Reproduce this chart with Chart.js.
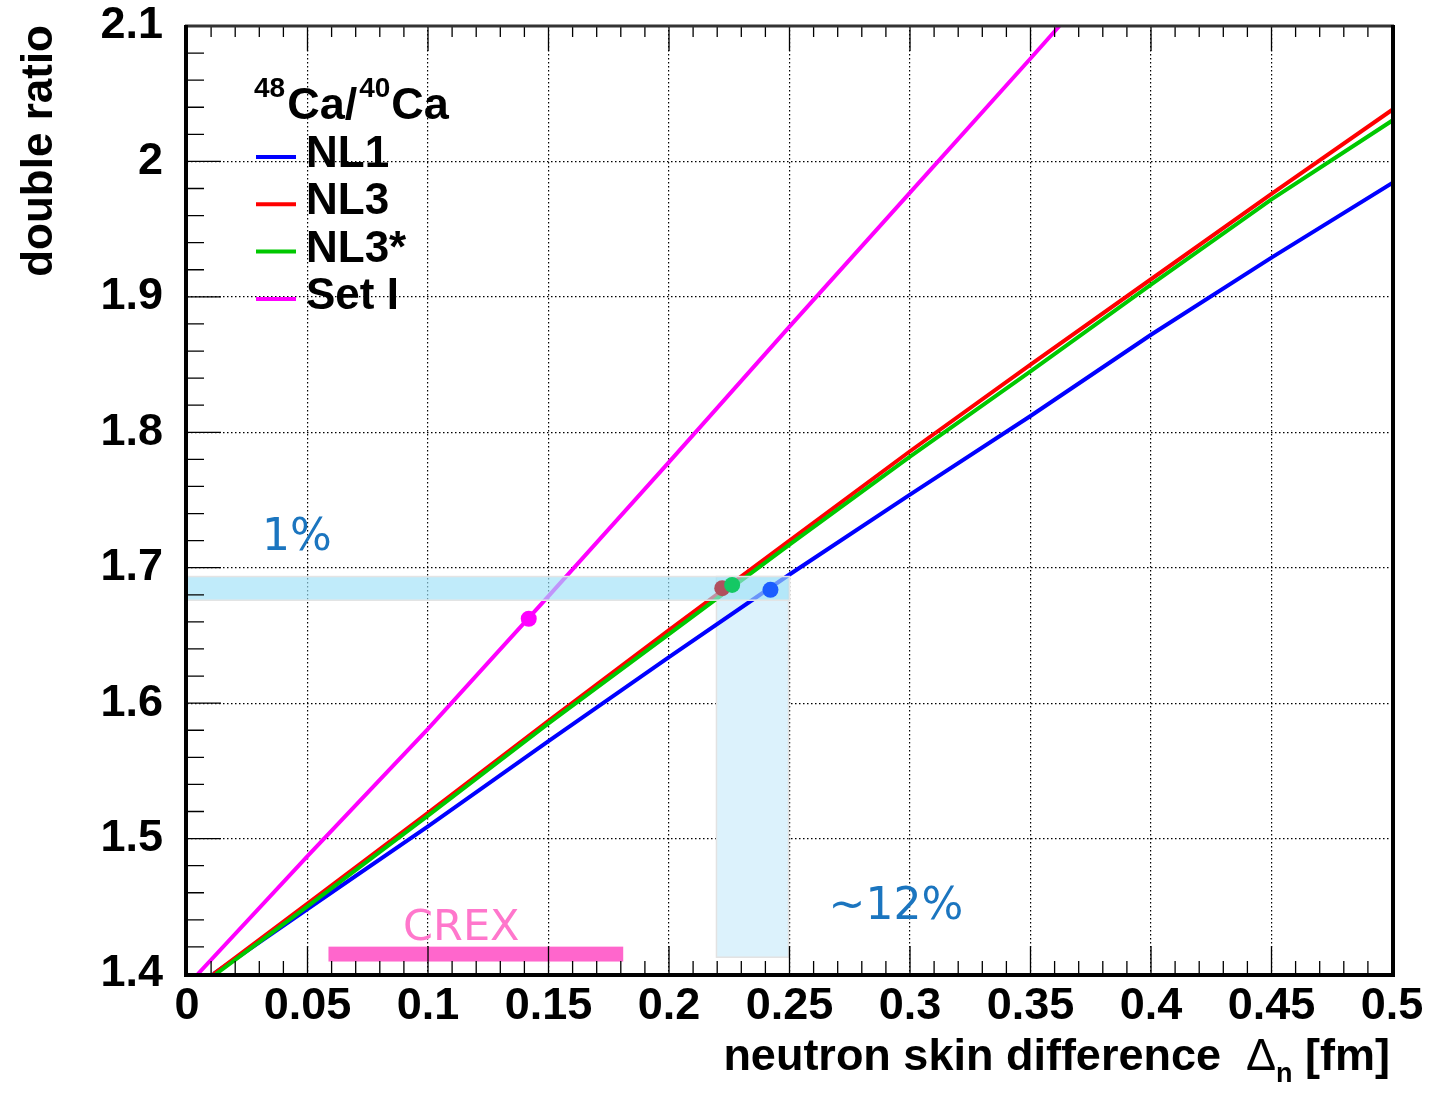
<!DOCTYPE html>
<html><head><meta charset="utf-8">
<script src="https://cdn.jsdelivr.net/npm/chart.js@4.4.1/dist/chart.umd.min.js"></script>
<style>html,body{margin:0;padding:0;background:#fff;}#wrap{width:1431px;height:1095px;}</style>
</head><body><div id="wrap"><canvas id="c" width="1431" height="1095"></canvas></div>
<script>
// ---------- data ----------
const seriesNames = ['NL1', 'NL3', 'NL3*', 'Set I'];
const xNL1  = [0.011, 0.05, 0.1, 0.15, 0.2, 0.25, 0.3, 0.35, 0.4, 0.45, 0.5];
const yNL1  = [1.400, 1.448, 1.509, 1.572, 1.634, 1.695, 1.754, 1.812, 1.872, 1.929, 1.984];
const xNL3  = [0.011, 0.05, 0.1, 0.15, 0.2, 0.25, 0.3, 0.35, 0.4, 0.45, 0.5];
const yNL3  = [1.400, 1.452, 1.519, 1.587, 1.654, 1.720, 1.786, 1.850, 1.913, 1.976, 2.038];
const xNL3s = [0.012, 0.05, 0.1, 0.15, 0.2, 0.25, 0.3, 0.35, 0.4, 0.45, 0.5];
const yNL3s = [1.400, 1.450, 1.517, 1.585, 1.651, 1.717, 1.782, 1.845, 1.909, 1.972, 2.030];
const xSetI = [0.0045, 0.05, 0.1, 0.15, 0.2, 0.25, 0.3, 0.35, 0.362];
const ySetI = [1.400, 1.487, 1.581, 1.679, 1.778, 1.878, 1.977, 2.076, 2.100];
// marked points (Set I, NL3, NL3*, NL1)
const dotX = [0.1418, 0.2221, 0.2262, 0.2421];
const dotY = [1.6623, 1.6849, 1.6873, 1.6837];
// shaded regions / bar  [x0, x1, y0, y1]
const hBand = [0.0, 0.25, 1.676, 1.6935];
const vBand = [0.2197, 0.2496, 1.4124, 1.6935];
const crexBar = [0.0587, 0.181, 1.4092, 1.4202];
const xTickLabels = ['0','0.05','0.1','0.15','0.2','0.25','0.3','0.35','0.4','0.45','0.5'];
const yTickLabels = ['1.4','1.5','1.6','1.7','1.8','1.9','2','2.1'];
const xTitle = 'neutron skin difference';
const yTitle = 'double ratio';

// ---------- styles ----------
const colors = ['#0000ff', '#ff0000', '#00c800', '#ff00ff'];
const dotColors = ['#ff00ff', '#b0505e', '#14c864', '#1a5cff'];
const ROOTFONT = 'Liberation Sans, Arial, sans-serif';

const pts = (xs, ys) => xs.map((x, i) => ({x, y: ys[i]}));
const lineDs = (label, xs, ys, color, order) => ({
  label, data: pts(xs, ys), showLine: true, borderColor: color, backgroundColor: color,
  borderWidth: 4, pointRadius: 0, fill: false, tension: 0, order
});

const annot = {
  id: 'annot',
  beforeDatasetsDraw(chart) {
    const {ctx, scales: {x, y}} = chart;
    ctx.save();
    const vx0 = x.getPixelForValue(vBand[0]), vx1 = x.getPixelForValue(vBand[1]);
    const vy0 = y.getPixelForValue(vBand[2]), vy1 = y.getPixelForValue(vBand[3]);
    ctx.fillStyle = '#dcf2fc';
    ctx.fillRect(vx0, vy1, vx1 - vx0, vy0 - vy1);
    ctx.strokeStyle = '#e2e2e2'; ctx.lineWidth = 1.5;
    ctx.strokeRect(vx0, vy1, vx1 - vx0, vy0 - vy1);
    const cx0 = x.getPixelForValue(crexBar[0]), cx1 = x.getPixelForValue(crexBar[1]);
    const cy0 = y.getPixelForValue(crexBar[2]), cy1 = y.getPixelForValue(crexBar[3]);
    ctx.fillStyle = '#ff66cc';
    ctx.fillRect(cx0, cy1, cx1 - cx0, cy0 - cy1);
    ctx.restore();
  },
  beforeDatasetDraw(chart, args) {
    if (chart.data.datasets[args.index].id !== 'dots') return;
    const {ctx, scales: {x, y}} = chart;
    const hx0 = x.getPixelForValue(hBand[0]), hx1 = x.getPixelForValue(hBand[1]);
    const hy0 = y.getPixelForValue(hBand[2]), hy1 = y.getPixelForValue(hBand[3]);
    ctx.save();
    ctx.fillStyle = 'rgba(160,225,247,0.66)';
    ctx.fillRect(hx0, hy1, hx1 - hx0, hy0 - hy1);
    ctx.strokeStyle = '#e4e4e4'; ctx.lineWidth = 1.5;
    ctx.strokeRect(hx0, hy1, hx1 - hx0, hy0 - hy1);
    ctx.restore();
  },
  afterDraw(chart) {
    const {ctx, chartArea: a, scales: {x, y}} = chart;
    ctx.save();
    ctx.strokeStyle = '#000'; ctx.lineWidth = 1.3;
    ctx.beginPath();
    x.ticks.forEach(t => {
      const px = x.getPixelForValue(t.value);
      const major = Math.round(t.value * 100) % 5 === 0;
      ctx.moveTo(px, a.bottom); ctx.lineTo(px, a.bottom - (major ? 28 : 13));
      ctx.moveTo(px, a.top); ctx.lineTo(px, a.top + (major ? 25 : 11));
    });
    y.ticks.forEach(t => {
      const py = y.getPixelForValue(t.value);
      const major = Math.round(t.value * 100) % 10 === 0;
      ctx.moveTo(a.left, py); ctx.lineTo(a.left + (major ? 34 : 17), py);
    });
    ctx.stroke();
    ctx.strokeStyle = '#333'; ctx.lineWidth = 3;
    ctx.beginPath(); ctx.moveTo(a.left - 2, a.top); ctx.lineTo(a.right + 2, a.top); ctx.stroke();
    ctx.strokeStyle = '#000'; ctx.lineWidth = 4;
    ctx.beginPath();
    ctx.moveTo(a.left - 1, a.top - 1); ctx.lineTo(a.left - 1, a.bottom + 1);
    ctx.lineTo(a.right + 1, a.bottom + 1); ctx.lineTo(a.right + 1, a.top - 1);
    ctx.stroke();

    ctx.textBaseline = 'alphabetic';
    ctx.font = '44px "DejaVu Sans"';
    ctx.fillStyle = '#1b75bf';
    ctx.textAlign = 'left';
    ctx.fillText('1%', x.getPixelForValue(0.0311), y.getPixelForValue(1.7132));
    ctx.fillText('~12%', x.getPixelForValue(0.2662), y.getPixelForValue(1.4407));
    ctx.fillStyle = '#ff77cc';
    ctx.font = '43px "DejaVu Sans"';
    ctx.textAlign = 'center';
    ctx.fillText('CREX', x.getPixelForValue(0.1138), y.getPixelForValue(1.4252));

    ctx.fillStyle = '#000';
    ctx.textAlign = 'left';
    let tx = 254;
    ctx.font = 'bold 28px ' + ROOTFONT; ctx.fillText('48', tx, 97); tx += ctx.measureText('48').width + 2;
    ctx.font = 'bold 45px ' + ROOTFONT; ctx.fillText('Ca/', tx, 119); tx += ctx.measureText('Ca/').width + 2;
    ctx.font = 'bold 28px ' + ROOTFONT; ctx.fillText('40', tx, 97); tx += ctx.measureText('40').width + 1;
    ctx.font = 'bold 45px ' + ROOTFONT; ctx.fillText('Ca', tx, 119);
    seriesNames.forEach((name, i) => {
      const ly = 157 + i * 47.3;
      ctx.strokeStyle = colors[i]; ctx.lineWidth = 4;
      ctx.beginPath(); ctx.moveTo(256, ly); ctx.lineTo(296, ly); ctx.stroke();
      ctx.fillStyle = '#000';
      ctx.font = 'bold 44px ' + ROOTFONT;
      ctx.fillText(name, 306, ly + 10);
    });

    ctx.save();
    ctx.translate(52, a.top - 1);
    ctx.rotate(-Math.PI / 2);
    ctx.textAlign = 'right';
    ctx.font = 'bold 44px ' + ROOTFONT;
    ctx.fillText(yTitle, 0, 0);
    ctx.restore();

    const partA = xTitle + '  ';
    const fB = 'bold 45px ' + ROOTFONT, fD = '45px ' + ROOTFONT, fS = 'bold 27px ' + ROOTFONT;
    ctx.font = fB; const wA = ctx.measureText(partA).width; const wE = ctx.measureText(' [fm]').width;
    ctx.font = fD; const wD = ctx.measureText('\u0394').width;
    ctx.font = fS; const wS = ctx.measureText('n').width;
    const base = 1070;
    let sx = 1390 - (wA + wD + wS + wE);
    ctx.textAlign = 'left';
    ctx.font = fB; ctx.fillText(partA, sx, base); sx += wA;
    ctx.font = fD; ctx.fillText('\u0394', sx, base); sx += wD;
    ctx.font = fS; ctx.fillText('n', sx, base + 12); sx += wS;
    ctx.font = fB; ctx.fillText(' [fm]', sx, base);
    ctx.restore();
  }
};

const tickFont = {family: ROOTFONT, size: 45, weight: 'bold'};

new Chart(document.getElementById('c'), {
  type: 'scatter',
  data: {
    datasets: [
      {id: 'dots', label: 'points', data: pts(dotX, dotY), showLine: false,
       pointRadius: 8, pointBorderWidth: 0, pointBackgroundColor: dotColors, order: 0},
      lineDs(seriesNames[2], xNL3s, yNL3s, colors[2], 1),
      lineDs(seriesNames[1], xNL3, yNL3, colors[1], 2),
      lineDs(seriesNames[0], xNL1, yNL1, colors[0], 3),
      lineDs(seriesNames[3], xSetI, ySetI, colors[3], 4)
    ]
  },
  options: {
    responsive: false, animation: false, devicePixelRatio: 1,
    layout: {padding: {top: 26, right: 39, left: 0, bottom: 0}},
    plugins: {legend: {display: false}, tooltip: {enabled: false}},
    scales: {
      x: {
        type: 'linear', min: 0, max: 0.5,
        afterFit: s => { s.height = 121; s.paddingLeft = 0; s.paddingRight = 0; },
        ticks: {stepSize: 0.01, autoSkip: false, maxRotation: 0, padding: 6, font: tickFont, color: '#000',
          callback: v => { const r = Math.round(v * 100); return r % 5 === 0 ? xTickLabels[r / 5] : ''; }},
        grid: {drawTicks: false, lineWidth: 1.2,
          color: c => { const r = Math.round(c.tick.value * 100); return (r % 5 === 0 && r > 0 && r < 50) ? '#000' : 'rgba(0,0,0,0)'; }},
        border: {display: false, dash: [1.5, 2.5]}
      },
      y: {
        type: 'linear', min: 1.4, max: 2.1,
        afterFit: s => { s.width = 187; s.paddingTop = 0; s.paddingBottom = 0; },
        ticks: {stepSize: 0.02, autoSkip: false, padding: 24, font: tickFont, color: '#000',
          callback: v => { const r = Math.round(v * 100); return r % 10 === 0 ? yTickLabels[(r - 140) / 10] : ''; }},
        grid: {drawTicks: false, lineWidth: 1.2,
          color: c => { const r = Math.round(c.tick.value * 100); return (r % 10 === 0 && r > 140 && r < 210) ? '#000' : 'rgba(0,0,0,0)'; }},
        border: {display: false, dash: [1.5, 2.5]}
      }
    }
  },
  plugins: [annot]
});
</script></body></html>
